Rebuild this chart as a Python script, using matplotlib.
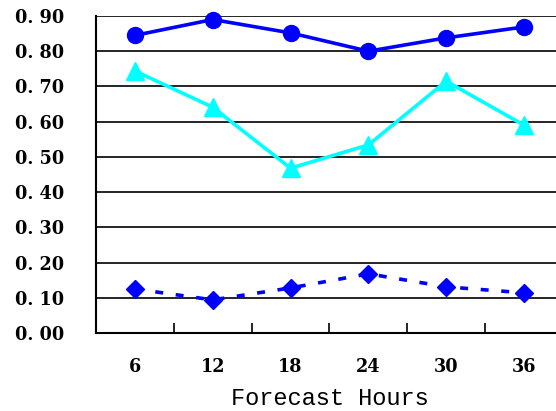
import matplotlib
matplotlib.use("Agg")
import matplotlib.pyplot as plt
import numpy as np

hours = [6, 12, 18, 24, 30, 36]
circle_vals = [0.845, 0.890, 0.852, 0.800, 0.838, 0.869]
triangle_vals = [0.744, 0.641, 0.468, 0.534, 0.715, 0.590]
diamond_vals = [0.125, 0.094, 0.128, 0.168, 0.131, 0.114]
ytick_vals = [0.0, 0.1, 0.2, 0.3, 0.4, 0.5, 0.6, 0.7, 0.8, 0.9]
ytick_labels = ["0. 00", "0. 10", "0. 20", "0. 30", "0. 40",
                "0. 50", "0. 60", "0. 70", "0. 80", "0. 90"]

fig = plt.figure(figsize=(5.56, 4.11), dpi=100)
# axes runs past the right edge of the figure, like the source
ax = fig.add_axes([96 / 556, 1 - 333 / 411, (563 - 96) / 556, (333 - 16) / 411])

x = np.arange(1, len(hours) + 1)
ax.plot(x, circle_vals, color="#0000ff", lw=2.6, marker="o", ms=11.5, zorder=4, clip_on=False)
ax.plot(x, triangle_vals, color="#00ffff", lw=2.6, marker="^", ms=13, zorder=4, clip_on=False)
ax.plot(x, diamond_vals, color="#0000ff", lw=2.6, ls=(0, (2.2, 3.5)), marker="D", ms=9.5, zorder=4, clip_on=False)

ax.set_xlim(0.5, 6.5)
ax.set_ylim(0, 0.9)
for v in ytick_vals[1:]:
    ax.axhline(v, color="black", lw=1.2, zorder=1)

for s in ["top", "right"]:
    ax.spines[s].set_visible(False)
for s in ["left", "bottom"]:
    ax.spines[s].set_linewidth(1.5)

tick_font = {"family": "DejaVu Serif", "weight": "bold", "size": 12.7}
ax.set_yticks(ytick_vals)
ax.set_yticklabels(ytick_labels, fontdict=tick_font)
ax.tick_params(axis="y", length=0, pad=23)

ax.set_xticks(x)
ax.set_xticklabels([str(h) for h in hours], fontdict=tick_font)
ax.set_xticks(np.arange(1.5, 6.5, 1), minor=True)
ax.tick_params(axis="x", which="major", length=0, pad=18)
ax.tick_params(axis="x", which="minor", direction="in", length=7, width=1.2)

ax.set_xlabel("Forecast Hours", family=["Liberation Mono", "DejaVu Sans Mono"], size=17, labelpad=8)

fig.savefig("out.png", dpi=100)
